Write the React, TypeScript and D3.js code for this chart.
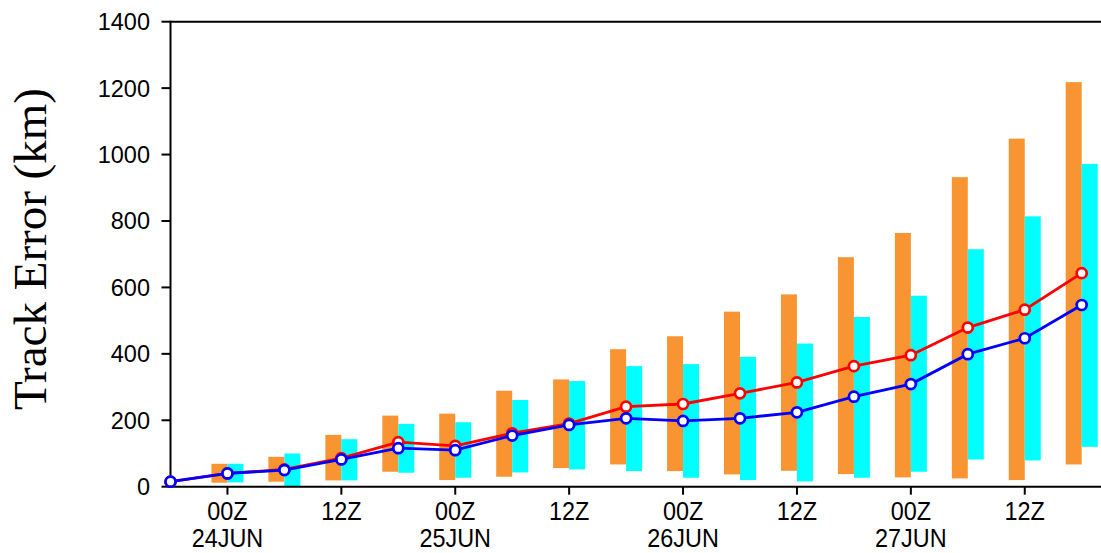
import React from "react";
import * as d3 from "d3";

// Forecast lead times (hours after 18Z 23JUN)
const leadHours = [0, 6, 12, 18, 24, 30, 36, 42, 48, 54, 60, 66, 72, 78, 84, 90, 96];

// Mean track errors (km)
const redMean = [15, 40, 52, 86, 134, 123, 161, 190, 241, 249, 281, 314, 363, 396, 479, 533, 643];
const blueMean = [15, 40, 50, 82, 116, 110, 154, 186, 206, 198, 206, 224, 271, 309, 399, 447, 547];

// Spread ranges (km)
const orangeLow = [null, 12, 15, 19, 45, 20, 30, 56, 67, 47, 37, 48, 38, 28, 25, 20, 67];
const orangeHigh = [null, 69, 90, 156, 214, 220, 289, 323, 414, 453, 527, 579, 691, 764, 932, 1048, 1218];
const cyanLow = [null, 13, 0, 19, 42, 27, 43, 52, 47, 27, 20, 16, 27, 45, 82, 79, 120];
const cyanHigh = [null, 69, 100, 143, 189, 194, 261, 318, 363, 369, 391, 431, 511, 575, 715, 814, 972];

// Axis ticks
const yTicks = [0, 200, 400, 600, 800, 1000, 1200, 1400];
const xTickHours = [6, 18, 30, 42, 54, 66, 78, 90];
const xTickLabels = ["00Z", "12Z", "00Z", "12Z", "00Z", "12Z", "00Z", "12Z"];
const xTickDates = ["24JUN", "", "25JUN", "", "26JUN", "", "27JUN", ""];

const W = 1101;
const H = 553;

export default function App() {
  const x = d3.scaleLinear().domain([0, 96]).range([170.5, 1081.7]);
  const y = d3.scaleLinear().domain([0, 1400]).range([486.7, 21.7]);
  const left = x(0);
  const bottom = y(0);
  const top = y(1400);
  const right = W;
  const barW = 16;

  const line = d3
    .line<number>()
    .x((_, i) => x(leadHours[i]))
    .y((d) => y(d));

  const sans = "'Liberation Sans', Arial, Helvetica, sans-serif";

  return (
    <svg
      width={W}
      height={H}
      style={{ position: "absolute", left: 0, top: 0, background: "#fff" }}
    >
      <rect x={0} y={0} width={W} height={H} fill="#fff" />
      {/* bars */}
      {leadHours.map((h, i) =>
        orangeLow[i] == null ? null : (
          <g key={"b" + i}>
            <rect
              x={x(h) - barW}
              y={y(orangeHigh[i] as number)}
              width={barW}
              height={y(orangeLow[i] as number) - y(orangeHigh[i] as number)}
              fill="#f89532"
            />
            <rect
              x={x(h)}
              y={y(cyanHigh[i] as number)}
              width={barW}
              height={y(cyanLow[i] as number) - y(cyanHigh[i] as number)}
              fill="#00ffff"
            />
          </g>
        )
      )}

      {/* frame */}
      <line x1={left} x2={right} y1={top} y2={top} stroke="#000" strokeWidth={2} />
      <line x1={left} x2={right} y1={bottom} y2={bottom} stroke="#000" strokeWidth={2} />
      <line x1={left} x2={left} y1={top - 1} y2={bottom + 1} stroke="#000" strokeWidth={2} />

      {/* y ticks */}
      {yTicks.map((t) => (
        <g key={"y" + t}>
          <line x1={left - 9} x2={left} y1={y(t)} y2={y(t)} stroke="#000" strokeWidth={2} />
          <text
            x={150}
            y={y(t) + 8.4}
            textAnchor="end"
            fontFamily={sans}
            fontSize={23.5}
            fill="#000"
          >
            {t}
          </text>
        </g>
      ))}

      {/* x ticks */}
      {xTickHours.map((h, i) => (
        <g key={"x" + h}>
          <line x1={x(h)} x2={x(h)} y1={bottom} y2={bottom + 8} stroke="#000" strokeWidth={2} />
          <g transform={`translate(${x(h)},0) scale(0.9,1)`}>
            <text x={0} y={520.5} textAnchor="middle" fontFamily={sans} fontSize={26} fill="#000">
              {xTickLabels[i]}
            </text>
            {xTickDates[i] ? (
              <text x={0} y={547} textAnchor="middle" fontFamily={sans} fontSize={26} fill="#000">
                {xTickDates[i]}
              </text>
            ) : null}
          </g>
        </g>
      ))}

      {/* y title */}
      <text
        transform={`translate(45.5,249) rotate(-90)`}
        textAnchor="middle"
        fontFamily="'Liberation Serif', 'Times New Roman', serif"
        fontSize={47}
        fill="#000"
      >
        Track Error (km)
      </text>

      {/* red series */}
      <path d={line(redMean) || ""} fill="none" stroke="#ff0000" strokeWidth={2.8} />
      {redMean.map((v, i) => (
        <circle key={"r" + i} cx={x(leadHours[i])} cy={y(v)} r={5} fill="#fff" stroke="#ff0000" strokeWidth={2.7} />
      ))}

      {/* blue series */}
      <path d={line(blueMean) || ""} fill="none" stroke="#0000ff" strokeWidth={2.8} />
      {blueMean.map((v, i) => (
        <circle key={"bl" + i} cx={x(leadHours[i])} cy={y(v)} r={5} fill="#fff" stroke="#0000ff" strokeWidth={2.7} />
      ))}
    </svg>
  );
}
